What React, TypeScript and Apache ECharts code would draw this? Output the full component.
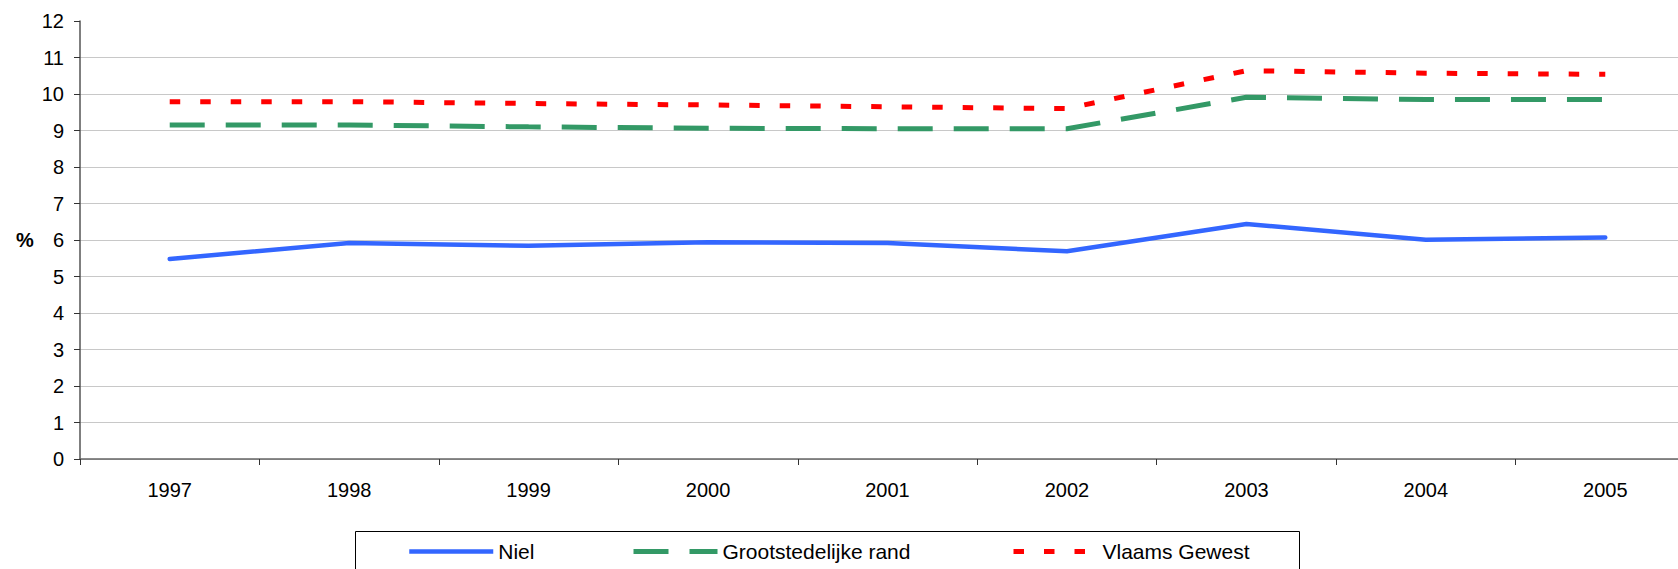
import React, { useEffect, useRef } from "react";
import * as echarts from "echarts";

const years = ["1997", "1998", "1999", "2000", "2001", "2002", "2003", "2004", "2005"];
const niel = [5.48, 5.92, 5.84, 5.94, 5.92, 5.69, 6.44, 6.01, 6.07];
const grootstedelijkeRand = [9.15, 9.15, 9.1, 9.06, 9.05, 9.05, 9.91, 9.85, 9.85];
const vlaamsGewest = [9.79, 9.79, 9.74, 9.7, 9.65, 9.6, 10.64, 10.57, 10.54];
const yMin = 0;
const yMax = 12;
const yInterval = 1;
const yUnit = "%";

const FONT = "'Liberation Sans', Arial, Helvetica, sans-serif";
const BLUE = "#3366FF";
const GREEN = "#339966";
const RED = "#FF0000";
const GREEN_DASH = [35, 21];
const RED_DASH = [10.5, 20];

export default function App() {
  const ref = useRef<HTMLDivElement>(null);

  useEffect(() => {
    if (!ref.current) return;
    const chart = echarts.init(ref.current, null, { renderer: "svg" });

    const legendText = { color: "#000", fontSize: 21, fontFamily: FONT };
    const mkLegend = (name: string, left: number, width: number, type: any) => ({
      show: true,
      data: [name],
      left,
      top: 541,
      padding: 0,
      itemWidth: 84,
      itemHeight: 14,
      itemGap: 5,
      textStyle: legendText,
      selectedMode: false,
      lineStyle: { width, type, cap: "butt" },
      itemStyle: { opacity: 0 },
    });

    chart.setOption({
      animation: false,
      backgroundColor: "#fff",
      textStyle: { fontFamily: FONT },
      grid: { left: 80, top: 21, right: 0, bottom: 110, containLabel: false },
      xAxis: {
        type: "category",
        data: years,
        boundaryGap: true,
        axisLine: { show: true, lineStyle: { color: "#666", width: 1.5 } },
        axisTick: { show: true, length: 6, inside: false, interval: 0, alignWithLabel: false, lineStyle: { color: "#333" } },
        axisLabel: { color: "#000", fontSize: 20, fontFamily: FONT, margin: 21, interval: 0 },
        splitLine: { show: false },
      },
      yAxis: {
        type: "value",
        min: yMin,
        max: yMax,
        interval: yInterval,
        axisLine: { show: true, lineStyle: { color: "#555", width: 1.5 } },
        axisTick: { show: true, length: 6, inside: false, lineStyle: { color: "#333" } },
        axisLabel: { color: "#000", fontSize: 20, fontFamily: FONT, margin: 16 },
        splitLine: { show: true, showMaxLine: false, lineStyle: { color: "#c8c8c8", width: 1.2 } },
      },
      legend: [
        mkLegend("Niel", 407, 4.5, "solid"),
        mkLegend("Grootstedelijke rand", 631, 5, GREEN_DASH),
        mkLegend("Vlaams Gewest", 1011, 5, RED_DASH),
      ],
      graphic: [
        {
          type: "rect",
          z: 0,
          shape: { x: 355.5, y: 531.5, width: 944, height: 80 },
          style: { fill: "#fff", stroke: "#000", lineWidth: 1 },
          silent: true,
        },
        {
          type: "text",
          x: 16,
          y: 240,
          style: {
            text: yUnit,
            fill: "#000",
            font: `bold 20px ${FONT}`,
            verticalAlign: "middle",
            align: "left",
          },
          silent: true,
        },
      ],
      series: [
        {
          name: "Niel",
          type: "line",
          data: niel,
          symbol: "none",
          showSymbol: false,
          color: BLUE,
          lineStyle: { color: BLUE, width: 4.5, type: "solid", cap: "round", join: "round" },
          z: 5,
        },
        {
          name: "Grootstedelijke rand",
          type: "line",
          data: grootstedelijkeRand,
          symbol: "none",
          showSymbol: false,
          color: GREEN,
          lineStyle: { color: GREEN, width: 5, type: GREEN_DASH, cap: "butt" },
          z: 4,
        },
        {
          name: "Vlaams Gewest",
          type: "line",
          data: vlaamsGewest,
          symbol: "none",
          showSymbol: false,
          color: RED,
          lineStyle: { color: RED, width: 5, type: RED_DASH, cap: "butt" },
          z: 3,
        },
      ],
    });

    return () => chart.dispose();
  }, []);

  return (
    <div
      style={{
        position: "fixed",
        left: 0,
        top: 0,
        width: 1678,
        height: 569,
        overflow: "hidden",
        background: "#fff",
      }}
    >
      <div ref={ref} style={{ width: 1695, height: 569 }} />
    </div>
  );
}
